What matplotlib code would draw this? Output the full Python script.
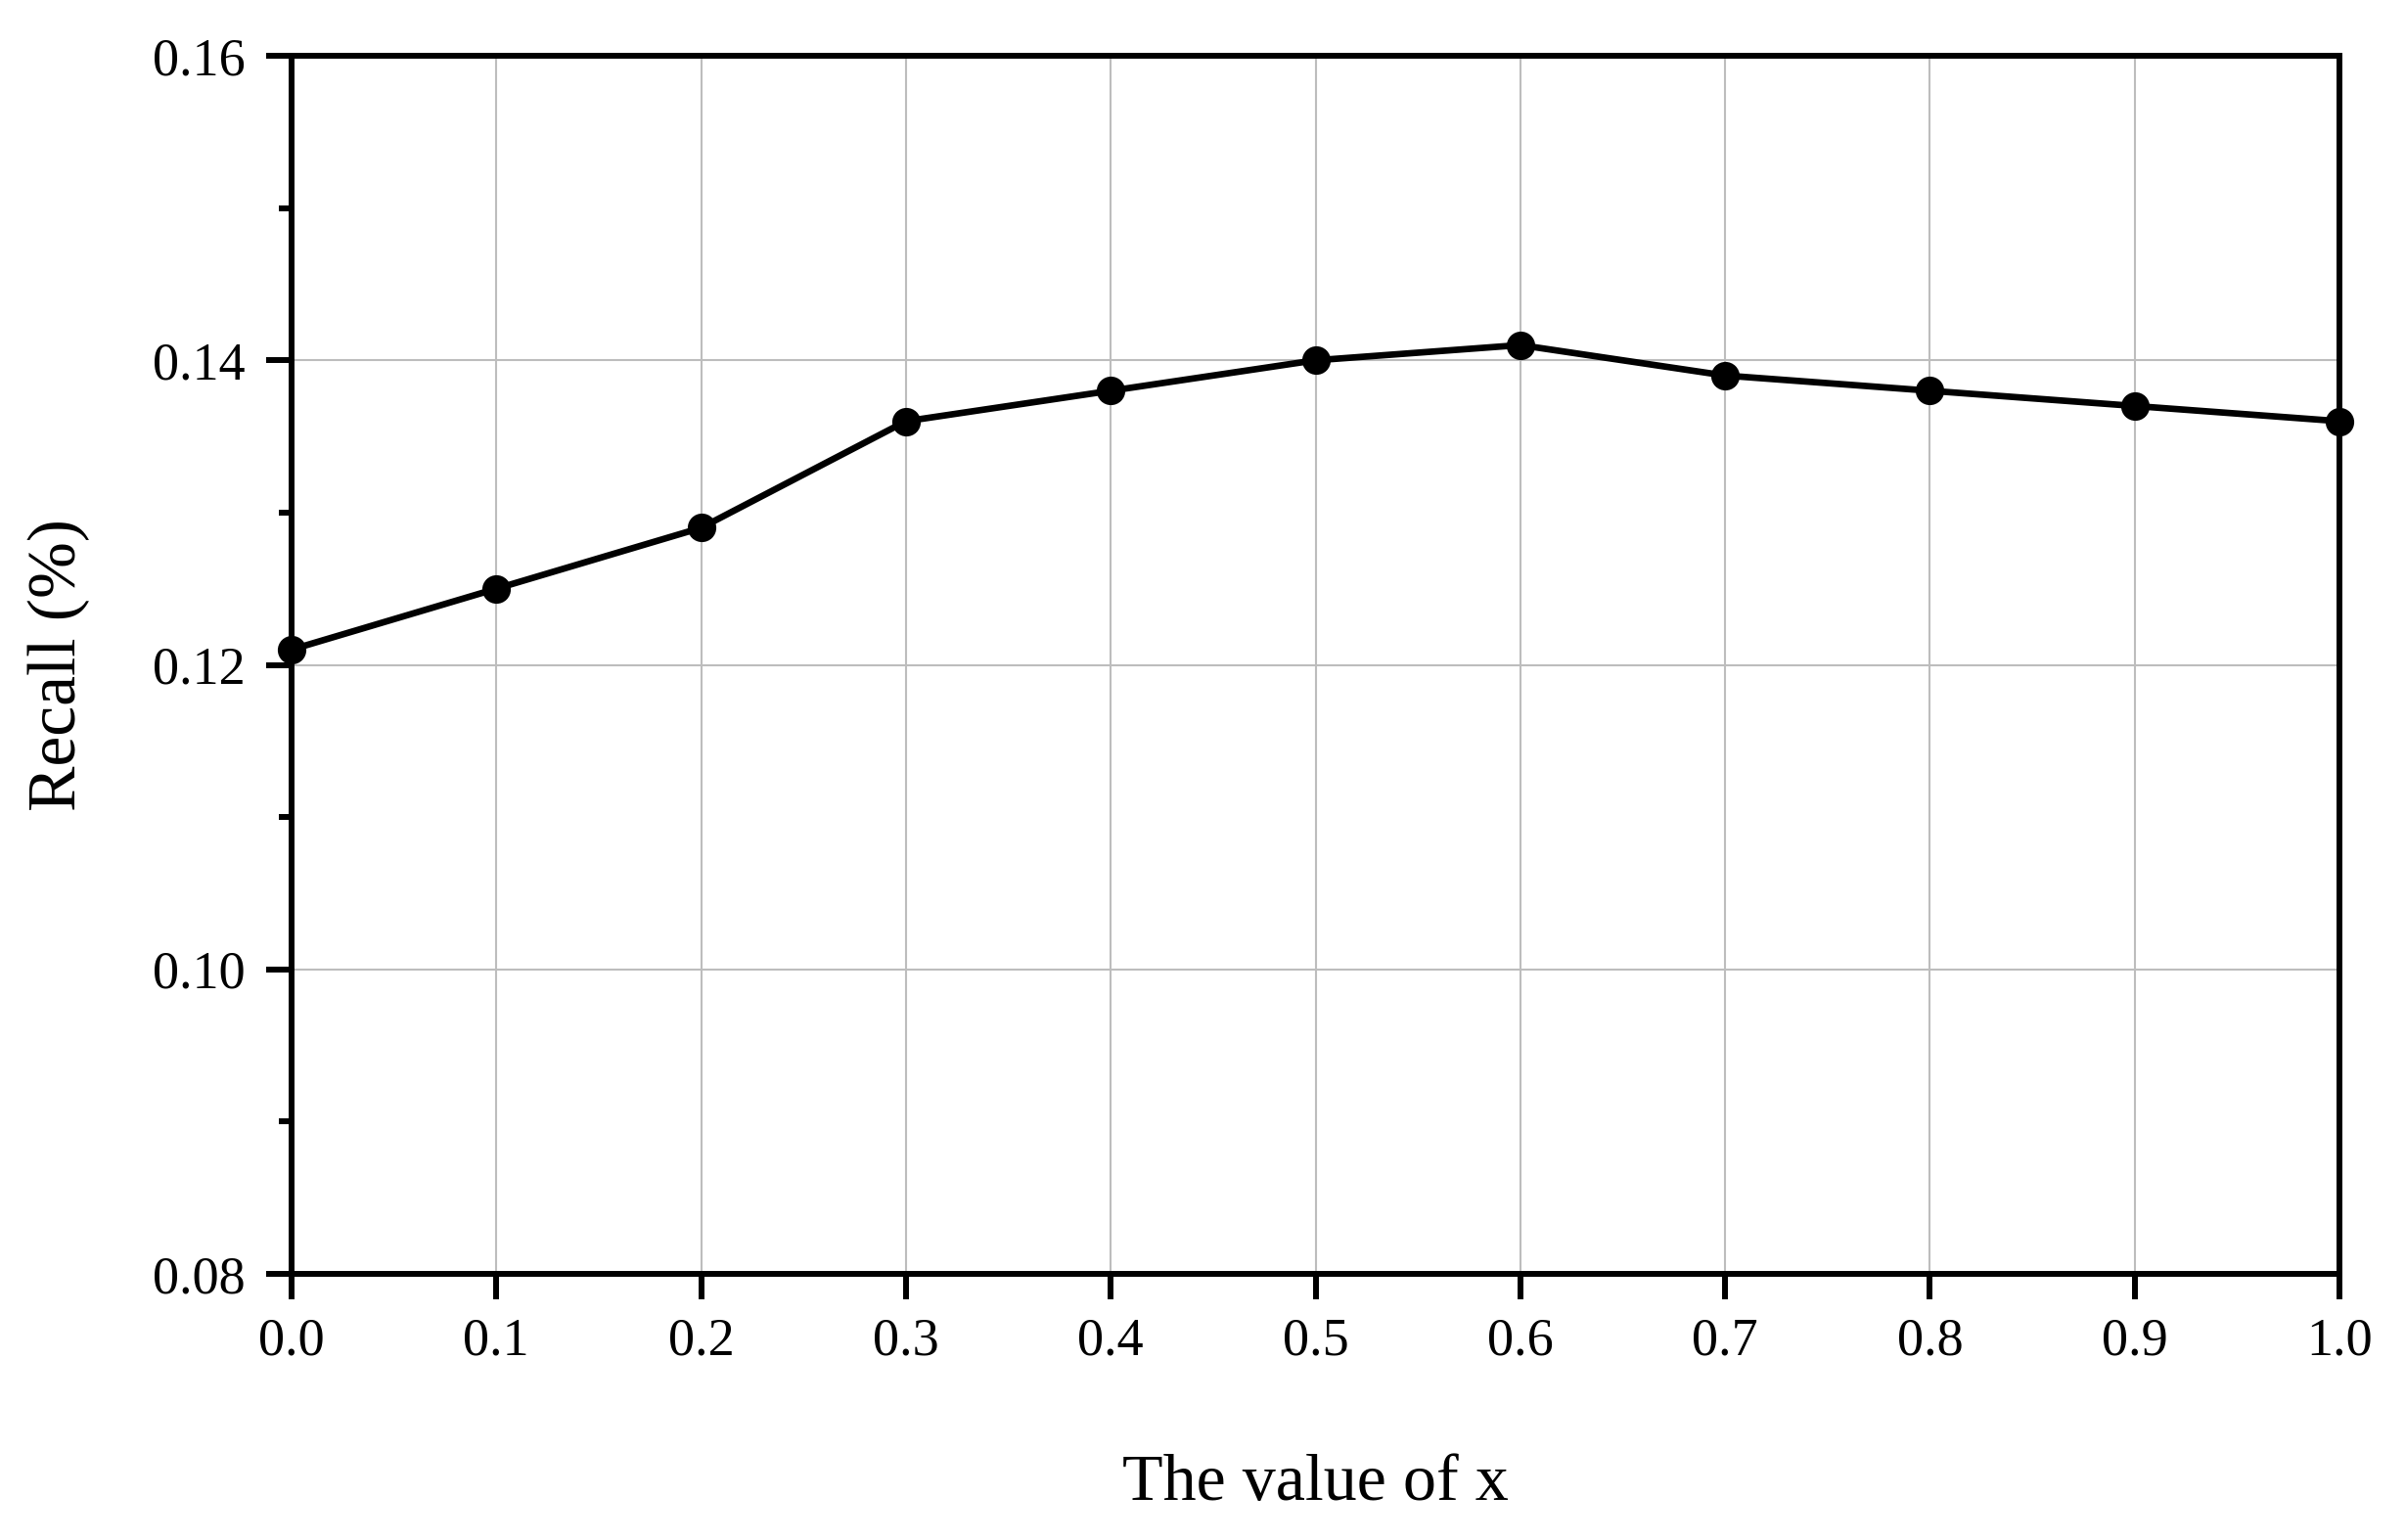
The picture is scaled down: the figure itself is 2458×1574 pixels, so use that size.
import matplotlib
matplotlib.use("Agg")
import matplotlib.pyplot as plt
from matplotlib.ticker import MultipleLocator, FormatStrFormatter

x_values = [0.0, 0.1, 0.2, 0.3, 0.4, 0.5, 0.6, 0.7, 0.8, 0.9, 1.0]
recall = [0.121, 0.125, 0.129, 0.136, 0.138, 0.140, 0.141, 0.139, 0.138, 0.137, 0.136]
x_label = "The value of x"
y_label = "Recall (%)"

plt.rcParams['font.family'] = ['Liberation Serif', 'DejaVu Serif']

fig = plt.figure(figsize=(24.58, 15.74), dpi=100)
ax = fig.add_axes([298/2458, 1 - 1302/1574, (2391-298)/2458, (1302-57)/1574])

ax.plot(x_values, recall, color='black', linewidth=4.8, marker='o',
        markersize=19.5, markeredgewidth=1.5, zorder=3, clip_on=False)

ax.set_xlim(0.0, 1.0)
ax.set_ylim(0.08, 0.16)
ax.xaxis.set_major_locator(MultipleLocator(0.1))
ax.xaxis.set_major_formatter(FormatStrFormatter('%.1f'))
ax.yaxis.set_major_locator(MultipleLocator(0.02))
ax.yaxis.set_minor_locator(MultipleLocator(0.01))
ax.yaxis.set_major_formatter(FormatStrFormatter('%.2f'))

ax.grid(True, which='major', color='#bdbdbd', linewidth=1.5, zorder=0)
ax.set_axisbelow(True)

for s in ax.spines.values():
    s.set_linewidth(4.3)
    s.set_color('black')

ax.tick_params(axis='both', which='major', direction='out', length=19, width=4.3,
               labelsize=39, color='black')
ax.tick_params(axis='y', which='major', pad=15)
ax.tick_params(axis='x', which='major', pad=13)
ax.tick_params(axis='y', which='minor', direction='out', length=9.5, width=4.3)
ax.tick_params(top=False, right=False, which='both')

ax.set_xlabel(x_label, fontsize=49)
ax.set_ylabel(y_label, fontsize=50)
ax.xaxis.label.set_va('center')
ax.yaxis.label.set_va('center')
ax.xaxis.set_label_coords(0.5, (1302 - 1517) / 1245)
ax.yaxis.set_label_coords((60 - 298) / 2093, 0.5)

fig.savefig("out.png", dpi=100)
